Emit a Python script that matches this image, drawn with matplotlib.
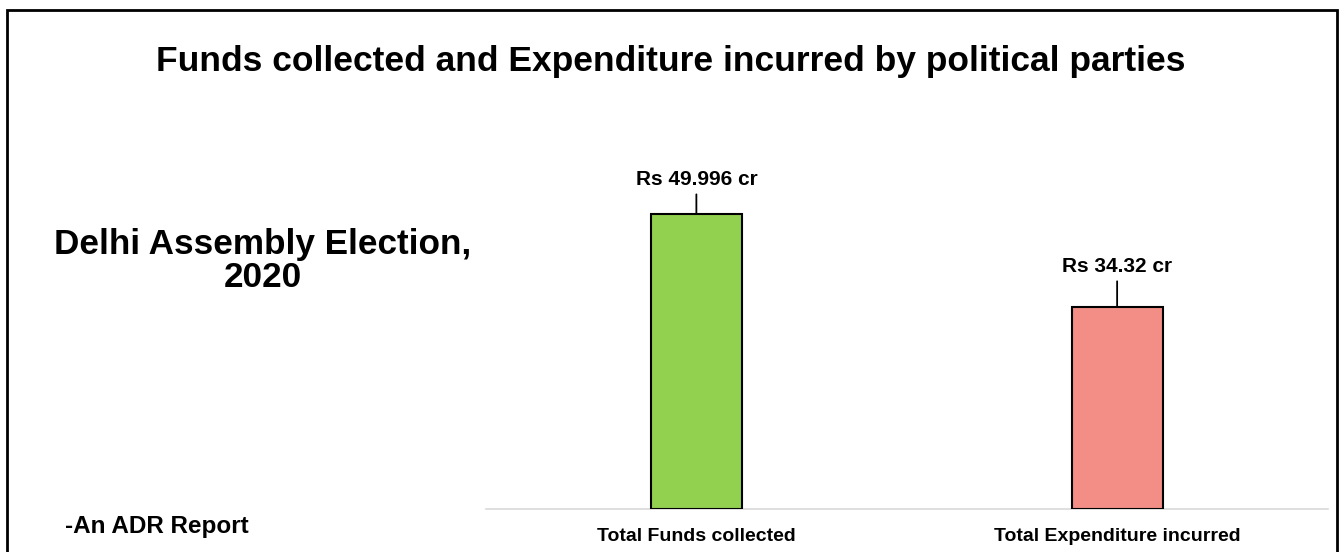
import matplotlib.pyplot as plt
from matplotlib.patches import Rectangle

categories = ["Total Funds collected", "Total Expenditure incurred"]
values = [49.996, 34.32]
value_labels = ["Rs 49.996 cr", "Rs 34.32 cr"]

colors = ["#92D050", "#F28E86"]
label_offsets = [25, 29]  # label centre above bar top, in points

plt.rcParams["font.family"] = ["Liberation Sans", "DejaVu Sans"]

fig = plt.figure(figsize=(13.42, 5.52), dpi=100)

# outer frame (open at the bottom, as in the cropped screenshot)
frame = Rectangle((7 / 1342, -0.05), 1330 / 1342, 1.05 - 10 / 552,
                  transform=fig.transFigure, fill=False, edgecolor="black",
                  linewidth=2, clip_on=False)
fig.add_artist(frame)

fig.text(0.5, 1 - 61 / 552,
         "Funds collected and Expenditure incurred by political parties",
         ha="center", va="center", fontsize=25.5, fontweight="bold")
fig.text(263 / 1342, 1 - 261 / 552, "Delhi Assembly Election,\n2020",
         ha="center", va="center", fontsize=25.3, fontweight="bold",
         linespacing=0.98)
fig.text(65 / 1342, 1 - 526 / 552, "-An ADR Report",
         ha="left", va="center", fontsize=17.5, fontweight="bold")

ax = fig.add_axes([486 / 1342, 43 / 552, 841.5 / 1342, 354 / 552])
x = range(len(categories))
ax.bar(x, values, width=0.216, color=colors, edgecolor="black", linewidth=1.5,
       zorder=3)
ax.set_xlim(-0.5, 1.5)
ax.set_ylim(0, 60)

for i, (v, lab) in enumerate(zip(values, value_labels)):
    ax.annotate(lab, xy=(i, v), xytext=(0, label_offsets[i]),
                textcoords="offset points", ha="center", va="center",
                fontsize=15, fontweight="bold",
                arrowprops=dict(arrowstyle="-", color="black", lw=1.3,
                                shrinkA=2, shrinkB=0))

ax.set_xticks(list(x))
ax.set_xticklabels(categories, fontsize=14, fontweight="bold")
ax.tick_params(axis="x", length=0, pad=14)
ax.set_yticks([])
for side in ["top", "left", "right"]:
    ax.spines[side].set_visible(False)
ax.spines["bottom"].set_color("#D9D9D9")
ax.spines["bottom"].set_linewidth(1.2)

fig.savefig("out.png", dpi=100)
